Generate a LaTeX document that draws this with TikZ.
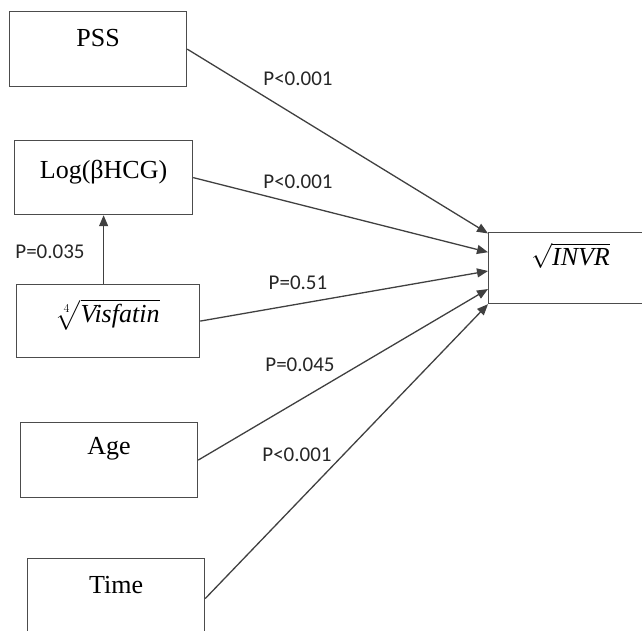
\documentclass[tikz,border=0pt]{standalone}
\usepackage{amsmath}
\usepackage{fontspec}
\setmainfont{Liberation Serif}
\newfontfamily\pfont{Carlito}
\usetikzlibrary{arrows.meta,calc}

\begin{document}
\begin{tikzpicture}[
    x=1pt, y=-1pt,
    >={Triangle[length=11pt, width=9pt]},
    % --- node styles -------------------------------------------------
    var/.style={
        draw=black!70, line width=1.2pt, anchor=north west,
        inner sep=0pt, text height=36pt, text depth=38pt,
        font=\fontsize{26}{31}\selectfont
    },
    pval/.style={
        font=\pfont\fontsize{21}{25}\selectfont, inner sep=1pt, text=black!85
    },
    link/.style={->, line width=1.3pt, black!75}
]
\useasboundingbox (0,0) rectangle (642,631);

% --- predictors ---------------------------------------------------
\node[var, minimum width=177pt, text height=35pt, text depth=40pt] (pss) at (9,11) {PSS};
\node[var, minimum width=178pt, text height=38pt, text depth=36pt] (hcg) at (14,140) {Log(βHCG)};
\node[var, minimum width=183pt, text height=38pt, text depth=35pt] (vis) at (16,284)
    {$\sqrt[4]{\text{\itshape Visfatin}}$};
\node[var, minimum width=177pt, text height=32pt, text depth=43pt] (age) at (20,422) {Age};
\node[var, minimum width=177pt, text height=35pt, text depth=45pt] (time) at (27,558) {Time};

% --- outcome ------------------------------------------------------
\node[var, minimum width=164pt, text height=33pt, text depth=38pt] (invr) at (488,232)
    {$\sqrt{\text{\itshape INVR}}$};

\coordinate (in1) at ($(invr.north west)!0.02!(invr.south west)$);
\coordinate (in2) at ($(invr.north west)!0.28!(invr.south west)$);
\coordinate (in3) at ($(invr.north west)!0.54!(invr.south west)$);
\coordinate (in4) at ($(invr.north west)!0.79!(invr.south west)$);
\coordinate (in5) at (invr.south west);

% --- paths --------------------------------------------------------
\draw[link] (pss.east)  -- (in1);
\draw[link] (hcg.east)  -- (in2);
\draw[link] (vis.east)  -- (in3);
\draw[link] (age.east)  -- (in4);
\draw[link] (time.east) -- (in5);
\draw[link] (vis.north -| hcg.south) -- (hcg.south);

% --- p-values -----------------------------------------------------
\node[pval] (p1) at (298,79)  {P<0.001};
\node[pval] (p2) at (298,182) {P<0.001};
\node[pval] (p3) at (298,283) {P=0.51};
\node[pval] (p4) at (300,365) {P=0.045};
\node[pval] (p5) at (297,455) {P<0.001};
\node[pval] (p6) at (50,252)  {P=0.035};

\end{tikzpicture}
\end{document}
